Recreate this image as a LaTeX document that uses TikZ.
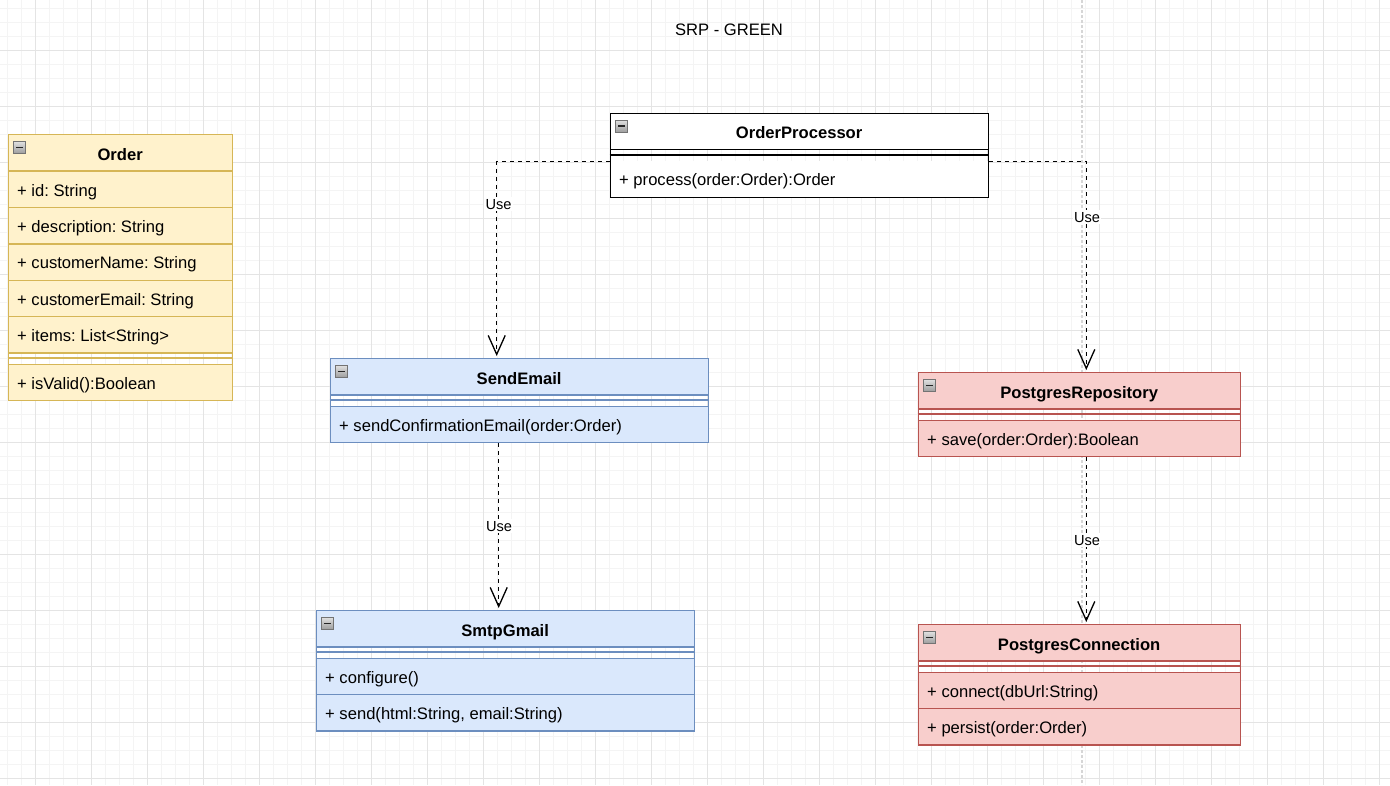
\documentclass[tikz,border=0pt]{standalone}
\usepackage{fontspec}
\setmainfont{Liberation Sans}
\frenchspacing
\usetikzlibrary{arrows.meta,calc}
\definecolor{yfill}{HTML}{FFF2CC}
\definecolor{ystroke}{HTML}{D6B656}
\definecolor{bfill}{HTML}{DAE8FC}
\definecolor{bstroke}{HTML}{6C8EBF}
\definecolor{rfill}{HTML}{F8CECC}
\definecolor{rstroke}{HTML}{B85450}
\definecolor{gridmin}{HTML}{F4F4F4}
\definecolor{gridmaj}{HTML}{E4E4E4}
\definecolor{pagebreak}{HTML}{D6D6D6}
\tikzset{
  ycls/.style={fill=yfill, draw=ystroke},
  bcls/.style={fill=bfill, draw=bstroke},
  rcls/.style={fill=rfill, draw=rstroke},
  wcls/.style={fill=white, draw=black},
  hdr/.style={rectangle, inner sep=0pt, minimum height=36.4pt, line width=1.3pt},
  rowbox/.style={rectangle, inner sep=0pt, minimum height=36.4pt, line width=1.3pt},
  frame/.style={rectangle, inner sep=0pt, line width=1.3pt},
  divline/.style={line width=1.3pt},
  ttl/.style={font=\bfseries\fontsize{16.6}{20}\selectfont, inner sep=0pt, anchor=base},
  txt/.style={font=\fontsize{16.6}{20}\selectfont, inner sep=0pt, anchor=base west},
  icon/.style={rectangle, inner sep=0pt, minimum size=12pt, draw=black!55, line width=0.8pt, top color=black!12, bottom color=black!38},
  iconminus/.style={draw=black!85, line width=1.4pt},
  uselbl/.style={font=\fontsize{14.6}{17}\selectfont, fill=white, inner sep=1.5pt, anchor=base},
  usearrow/.style={draw=black, line width=1.3pt, dash pattern=on 4pt off 4pt, shorten >=2pt,
    -{Straight Barb[length=19pt,width=17pt,line width=1.3pt]}},
  gridminor/.style={draw=gridmin, line width=1pt},
  gridmajor/.style={draw=gridmaj, line width=1pt},
  pageline/.style={draw=pagebreak, line width=1.5pt, dash pattern=on 2.5pt off 2.5pt},
  titletxt/.style={font=\fontsize{16.6}{20}\selectfont, inner sep=0pt, anchor=base}
}
\newcommand\clshead[6]{%
  \node[hdr, #2, minimum width=#5pt, anchor=north west] (#1) at (#3,#4) {};
  \node[ttl] (#1-t) at ([yshift=-7.2pt]#1.center) {#6};
  \node[icon] (#1-i) at ([xshift=12.3pt,yshift=-13.3pt]#1.north west) {};
  \draw[iconminus] ([xshift=-3.6pt]#1-i.center) -- ([xshift=3.6pt]#1-i.center);
}
\newcommand\clsrow[6]{%
  \node[rowbox, #2, minimum width=#5pt, anchor=north west] (#1) at (#3,#4) {};
  \node[txt] (#1-t) at ([xshift=9.5pt,yshift=-6.8pt]#1.west) {#6};
}
\newcommand\clsdiv[6]{%
  \coordinate (#1) at (#3,#4);
  \draw[divline, #2, line width=#6pt] ($(#1)+(0,5.6)$) -- ++(#5,0);
}
\newcommand\clsframe[6]{%
  \node[frame, #2, fill=none, minimum width=#5pt, minimum height=#6pt, anchor=north west] (#1) at (#3,#4) {};
}
\begin{document}
\begin{tikzpicture}[x=1pt,y=-1pt]
\useasboundingbox (0,0) rectangle (1390,785);
\fill[white] (0,0) rectangle (1390,785);
% grid
\foreach \k in {0,...,99} {
  \draw[gridminor] ({7.3+14*\k},0) -- ({7.3+14*\k},785);
}
\foreach \k in {0,...,56} {
  \draw[gridminor] (0,{8+14*\k}) -- (1390,{8+14*\k});
}
\foreach \k in {0,...,24} {
  \draw[gridmajor] ({35.3+56*\k},0) -- ({35.3+56*\k},785);
}
\foreach \k in {0,...,13} {
  \draw[gridmajor] (0,{50+56*\k}) -- (1390,{50+56*\k});
}
\draw[pageline] (1082,0) -- (1082,785);

% title
\node[titletxt] (title) at (729,35) {SRP - GREEN};

% Order
\clshead{order}{ycls}{7.5}{134}{224}{Order}
\clsrow{order-r1}{ycls}{7.5}{170.4}{224}{+ id: String}
\clsrow{order-r2}{ycls}{7.5}{206.8}{224}{+ description: String}
\clsrow{order-r3}{ycls}{7.5}{243.2}{224}{+ customerName: String}
\clsrow{order-r4}{ycls}{7.5}{279.6}{224}{+ customerEmail: String}
\clsrow{order-r5}{ycls}{7.5}{316}{224}{+ items: List<String>}
\clsdiv{order-d}{ycls}{7.5}{352.4}{224}{1.3}
\clsrow{order-m1}{ycls}{7.5}{363.6}{224}{+ isValid():Boolean}
\clsframe{order-f}{ycls}{7.5}{134}{224}{266}

% OrderProcessor
\clshead{op}{wcls}{609.5}{112.7}{378}{OrderProcessor}
\clsrow{op-m1}{wcls, draw=none}{609.5}{160.3}{378}{+ process(order:Order):Order}
\clsdiv{op-d}{wcls}{609.5}{149.1}{378}{1.8}
\clsframe{op-f}{wcls}{609.5}{112.7}{378}{84}

% SendEmail
\clshead{se}{bcls}{329.5}{358}{378}{SendEmail}
\clsdiv{se-d}{bcls}{329.5}{394.4}{378}{1.3}
\clsrow{se-m1}{bcls}{329.5}{405.6}{378}{+ sendConfirmationEmail(order:Order)}
\clsframe{se-f}{bcls}{329.5}{358}{378}{84}

% SmtpGmail
\clshead{sg}{bcls}{315.5}{610}{378}{SmtpGmail}
\clsdiv{sg-d}{bcls}{315.5}{646.4}{378}{1.3}
\clsrow{sg-m1}{bcls}{315.5}{657.6}{378}{+ configure()}
\clsrow{sg-m2}{bcls}{315.5}{694}{378}{+ send(html:String, email:String)}
\clsframe{sg-f}{bcls}{315.5}{610}{378}{120.4}

% PostgresRepository
\clshead{pr}{rcls}{917.5}{372}{322}{PostgresRepository}
\clsdiv{pr-d}{rcls}{917.5}{408.4}{322}{1.3}
\clsrow{pr-m1}{rcls}{917.5}{419.6}{322}{+ save(order:Order):Boolean}
\clsframe{pr-f}{rcls}{917.5}{372}{322}{84}

% PostgresConnection
\clshead{pc}{rcls}{917.5}{624}{322}{PostgresConnection}
\clsdiv{pc-d}{rcls}{917.5}{660.4}{322}{1.3}
\clsrow{pc-m1}{rcls}{917.5}{671.6}{322}{+ connect(dbUrl:String)}
\clsrow{pc-m2}{rcls}{917.5}{708}{322}{+ persist(order:Order)}
\clsframe{pc-f}{rcls}{917.5}{624}{322}{120.4}

% connectors
\coordinate (k1) at (496.7,161.7);
\coordinate (k2) at (1086.3,161.7);
\coordinate (k3) at (498.7,0);
\coordinate (k4) at (1086.3,0);
\draw[usearrow] (op-f.west |- k1) -- (k1) -- (k1 |- se-f.north);
\draw[usearrow] (op-f.east |- k2) -- (k2) -- (k2 |- pr-f.north);
\draw[usearrow] (k3 |- se-f.south) -- (k3 |- sg-f.north);
\draw[usearrow] (k4 |- pr-f.south) -- (k4 |- pc-f.north);
\node[uselbl] (u1) at (498.5,209) {Use};
\node[uselbl] (u2) at (1087,222) {Use};
\node[uselbl] (u3) at (499,531) {Use};
\node[uselbl] (u4) at (1087,545) {Use};
\end{tikzpicture}
\end{document}
